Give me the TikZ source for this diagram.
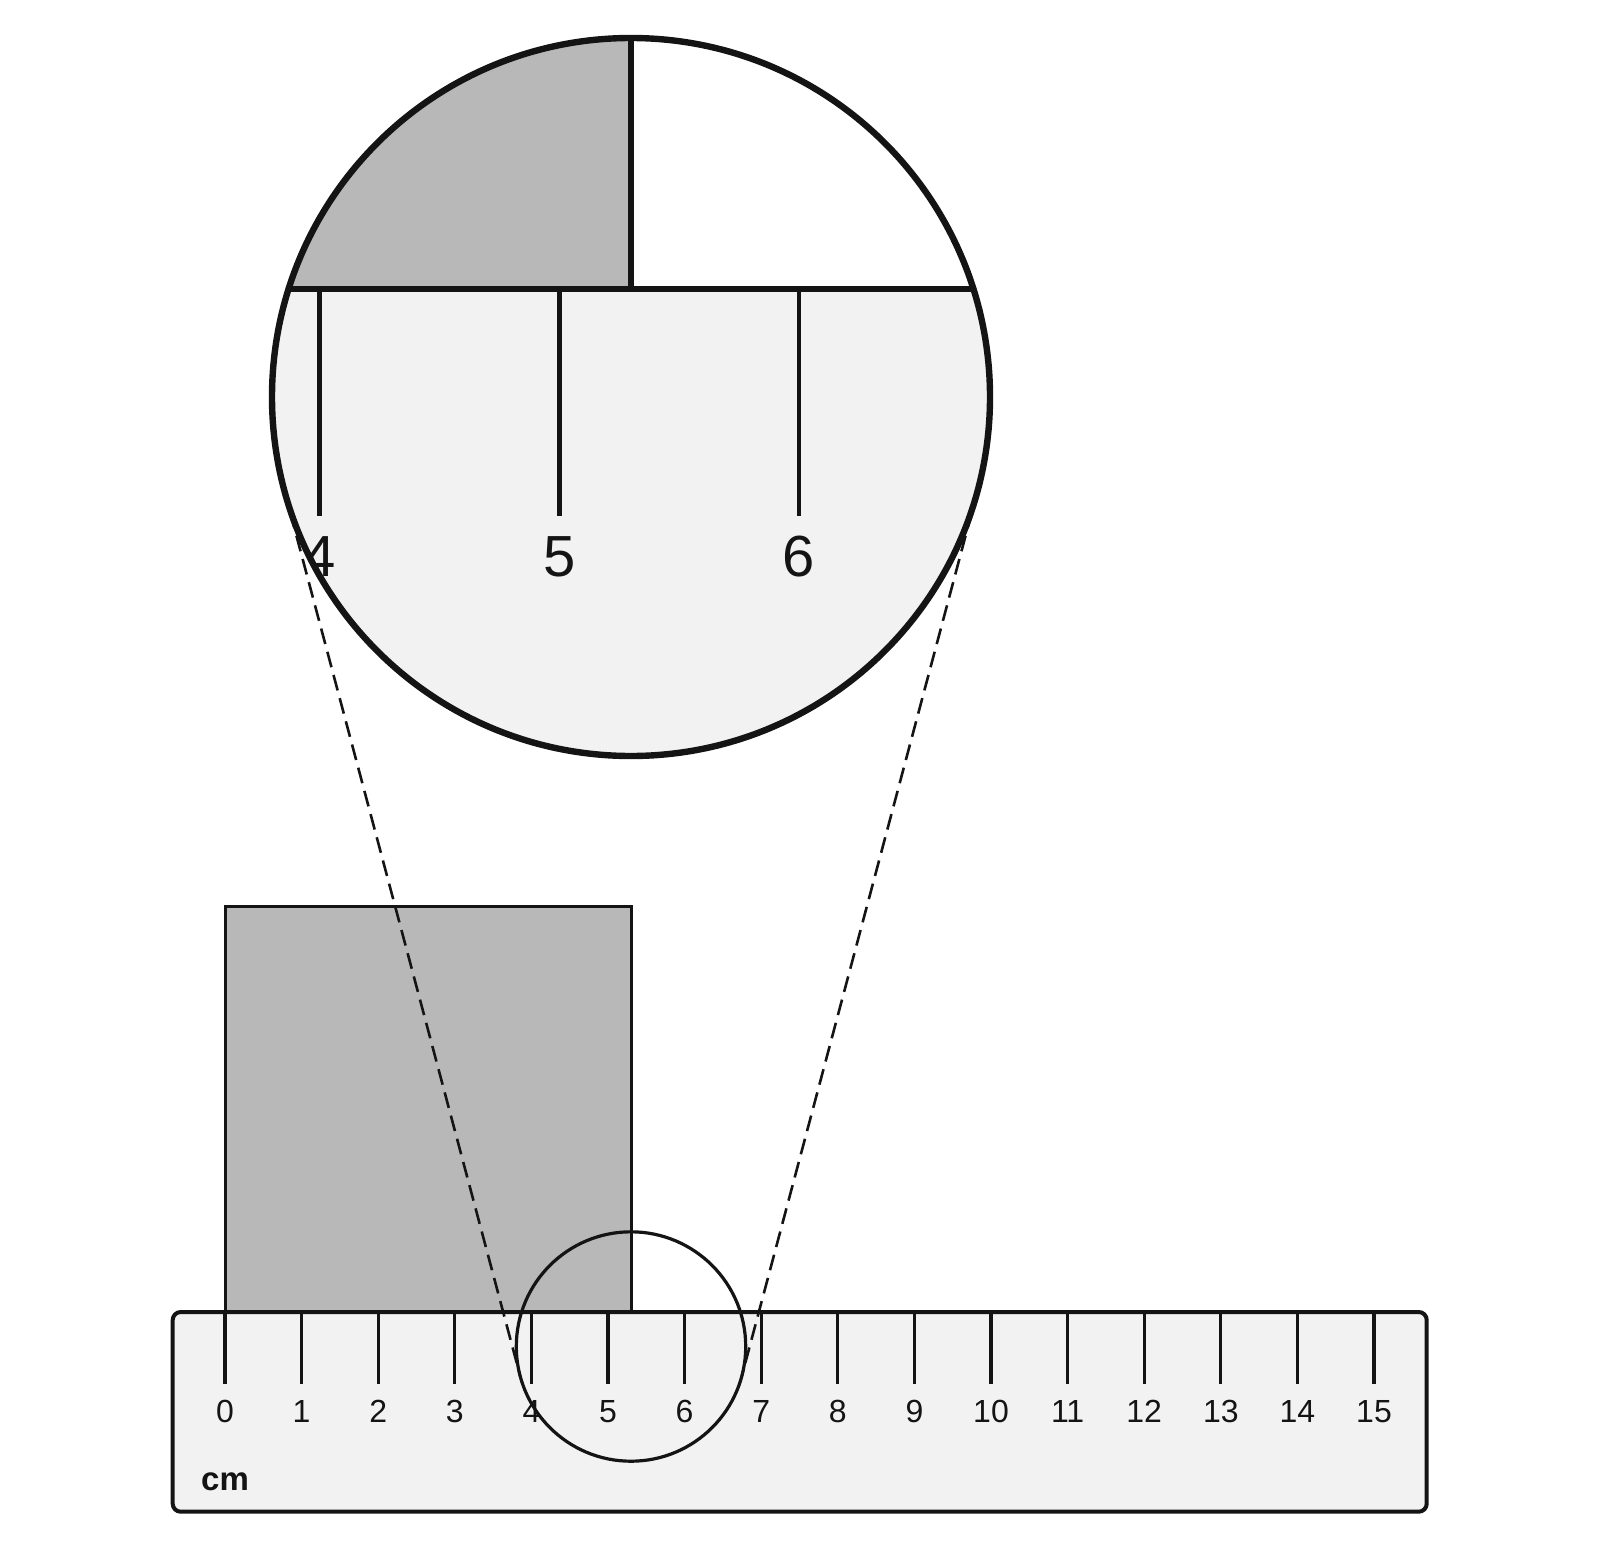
\documentclass[tikz,border=0pt]{standalone}
\usepackage{fontspec}
\setmainfont{Liberation Sans}
\definecolor{inkc}{HTML}{141414}
\definecolor{grayfill}{HTML}{B8B8B8}
\definecolor{lightfill}{HTML}{F2F2F2}
\begin{document}
\begin{tikzpicture}[x=0.5pt,y=-0.5pt,
  rulerbox/.style={draw=inkc,fill=lightfill,line width=2pt,rounded corners=4pt},
  blockbox/.style={draw=inkc,fill=grayfill,line width=1.5pt},
  smalltick/.style={draw=inkc,line width=1.6pt},
  bigtick/.style={draw=inkc,line width=2.4pt},
  smalllabel/.style={text=inkc,font=\fontsize{16}{18}\selectfont,inner sep=0pt,anchor=base},
  biglabel/.style={text=inkc,font=\fontsize{29}{32}\selectfont,inner sep=0pt,anchor=base},
  lens/.style={draw=inkc,line width=1.6pt},
  bigring/.style={draw=inkc,line width=3.2pt},
  guide/.style={draw=inkc,line width=1.3pt,dash pattern=on 8pt off 4pt}]
\useasboundingbox (0,0) rectangle (1600,1552);
% block
\coordinate (blkA) at (225,906);
\coordinate (blkB) at (631,1312);
\path[blockbox] (blkA) rectangle (blkB);
% ruler
\coordinate (rulA) at (172.7,1312);
\coordinate (rulB) at (1426.7,1511.7);
\path[rulerbox] (rulA) rectangle (rulB);
\foreach \i in {0,...,15}{
  \coordinate (ta\i) at ({225+76.6*\i},1312);
  \coordinate (tb\i) at ({225+76.6*\i},1384);
  \draw[smalltick] (ta\i) -- (tb\i);
  \node[smalllabel] (lab\i) at ({225+76.6*\i},1422.7) {\i};
}
\node[text=inkc,font=\fontsize{16.5}{18}\selectfont\bfseries,inner sep=0pt,anchor=base] (cmlab) at (225,1490) {cm};
% small lens circle
\coordinate (smc) at (631,1346.5);
\path[lens] (smc) circle[radius=114.7];
% dashed guides (external tangents)
\coordinate (gl1) at (284.1,489.4);
\coordinate (gl2) at (520.2,1376);
\coordinate (gr1) at (977.9,489.4);
\coordinate (gr2) at (741.8,1376);
\draw[guide] (gl1) -- (gl2);
\draw[guide] (gr1) -- (gr2);
% big magnified circle
\coordinate (bigc) at (631,397);
\fill[lightfill] (bigc) circle[radius=359];
\begin{scope}
  \clip (bigc) circle[radius=359];
  \fill[grayfill] (200,0) rectangle (631,289);
  \fill[white] (631,0) rectangle (1100,289);
  \coordinate (hL) at (200,289);
  \coordinate (hR) at (1100,289);
  \draw[draw=inkc,line width=2.8pt] (hL) -- (hR);
  \coordinate (vT) at (631,0);
  \coordinate (vB) at (631,289);
  \draw[draw=inkc,line width=2.8pt] (vT) -- (vB);
  \foreach \n/\x in {4/319.6,5/559.3,6/799}{
    \coordinate (bta\n) at (\x,289);
    \coordinate (btb\n) at (\x,516);
    \draw[bigtick] (bta\n) -- (btb\n);
    \node[biglabel] (blab\n) at (\x,576.8) {\n};
  }
\end{scope}
\path[bigring] (bigc) circle[radius=359];
\end{tikzpicture}
\end{document}
